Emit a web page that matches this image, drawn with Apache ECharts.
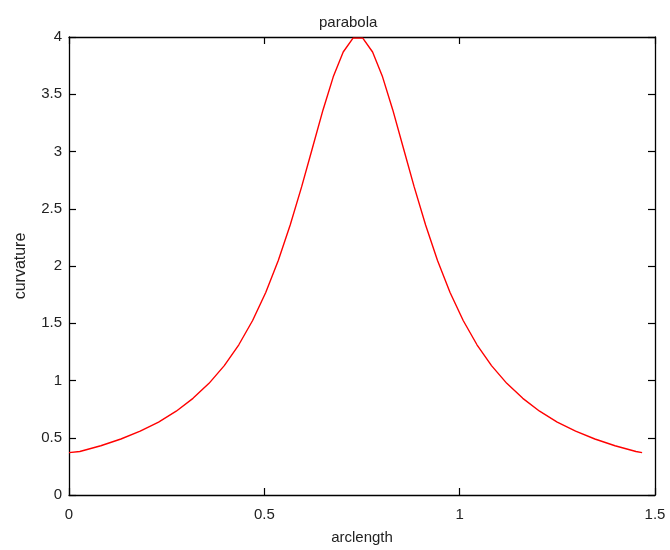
<!DOCTYPE html>
<html>
<head>
<meta charset="utf-8">
<script src="https://cdn.jsdelivr.net/npm/echarts@6/dist/echarts.min.js"></script>
<style>
  html, body { margin: 0; padding: 0; background: #ffffff; }
  #chart { width: 670px; height: 550px; }
</style>
</head>
<body>
<div id="chart"></div>
<script>
// Curvature of the parabola sampled along its arclength
const arclength = [
  0.0000, 0.0277, 0.0814, 0.1329, 0.1822, 0.2293, 0.2744, 0.3174, 0.3584, 0.3975,
  0.4347, 0.4700, 0.5036, 0.5357, 0.5662, 0.5954, 0.6233, 0.6502, 0.6764, 0.7019,
  0.7270, 0.7520, 0.7771, 0.8026, 0.8288, 0.8557, 0.8836, 0.9128, 0.9433, 0.9754,
  1.0090, 1.0443, 1.0815, 1.1206, 1.1616, 1.2046, 1.2497, 1.2968, 1.3461, 1.3976,
  1.4513, 1.4670
];
const curvature = [
  0.370, 0.380, 0.430, 0.489, 0.557, 0.637, 0.732, 0.844, 0.975, 1.130,
  1.312, 1.524, 1.769, 2.048, 2.358, 2.691, 3.033, 3.363, 3.652, 3.869,
  3.990, 3.990, 3.869, 3.652, 3.363, 3.033, 2.691, 2.358, 2.048, 1.769,
  1.524, 1.312, 1.130, 0.975, 0.844, 0.732, 0.637, 0.557, 0.489, 0.430,
  0.380, 0.370
];
const xTicks = [0, 0.5, 1, 1.5];
const yTicks = [0, 0.5, 1, 1.5, 2, 2.5, 3, 3.5, 4];
const titleText = 'parabola';
const xName = 'arclength';
const yName = 'curvature';

const points = arclength.map((s, i) => [s, curvature[i]]);

const font = 'Liberation Sans, Arial, Helvetica, sans-serif';
const axisColor = '#000000';
const labelColor = '#222222';

function fmt(v) { return String(v); }

const chart = echarts.init(document.getElementById('chart'), null, { renderer: 'canvas' });

const tickStyle = { show: true, inside: true, length: 7, lineStyle: { color: axisColor, width: 1.2 } };
const lineStyle = { show: true, onZero: false, lineStyle: { color: axisColor, width: 1.3 } };

chart.setOption({
  animation: false,
  backgroundColor: '#ffffff',
  grid: { left: 69, right: 15, top: 37, bottom: 51, containLabel: false },
  graphic: [{
    type: 'text',
    left: 359 - 40,
    top: 15,
    style: {
      text: titleText,
      x: 0, y: 0,
      font: '15px ' + font,
      fill: labelColor,
      width: 80,
      align: 'center'
    }
  }],
  xAxis: [{
    type: 'value',
    position: 'bottom',
    min: xTicks[0],
    max: xTicks[xTicks.length - 1],
    interval: 0.5,
    axisLine: lineStyle,
    axisTick: tickStyle,
    splitLine: { show: false },
    axisLabel: { color: labelColor, fontSize: 15, fontFamily: font, margin: 12, formatter: fmt },
    name: xName,
    nameLocation: 'middle',
    nameGap: 35,
    nameTextStyle: { color: labelColor, fontSize: 15, fontFamily: font }
  }, {
    type: 'value',
    position: 'top',
    min: xTicks[0],
    max: xTicks[xTicks.length - 1],
    interval: 0.5,
    axisLine: lineStyle,
    axisTick: tickStyle,
    splitLine: { show: false },
    axisLabel: { show: false }
  }],
  yAxis: [{
    type: 'value',
    position: 'left',
    min: yTicks[0],
    max: yTicks[yTicks.length - 1],
    interval: 0.5,
    axisLine: lineStyle,
    axisTick: tickStyle,
    splitLine: { show: false },
    axisLabel: { color: labelColor, fontSize: 15, fontFamily: font, margin: 7, formatter: fmt },
    name: yName,
    nameLocation: 'middle',
    nameGap: 40,
    nameRotate: 90,
    nameTextStyle: { color: labelColor, fontSize: 16, fontFamily: font }
  }, {
    type: 'value',
    position: 'right',
    min: yTicks[0],
    max: yTicks[yTicks.length - 1],
    interval: 0.5,
    axisLine: lineStyle,
    axisTick: tickStyle,
    splitLine: { show: false },
    axisLabel: { show: false }
  }],
  series: [{
    type: 'line',
    data: points,
    xAxisIndex: 0,
    yAxisIndex: 0,
    showSymbol: false,
    symbol: 'none',
    smooth: false,
    clip: false,
    lineStyle: { color: '#ff0000', width: 1.4 }
  }]
});
</script>
</body>
</html>
